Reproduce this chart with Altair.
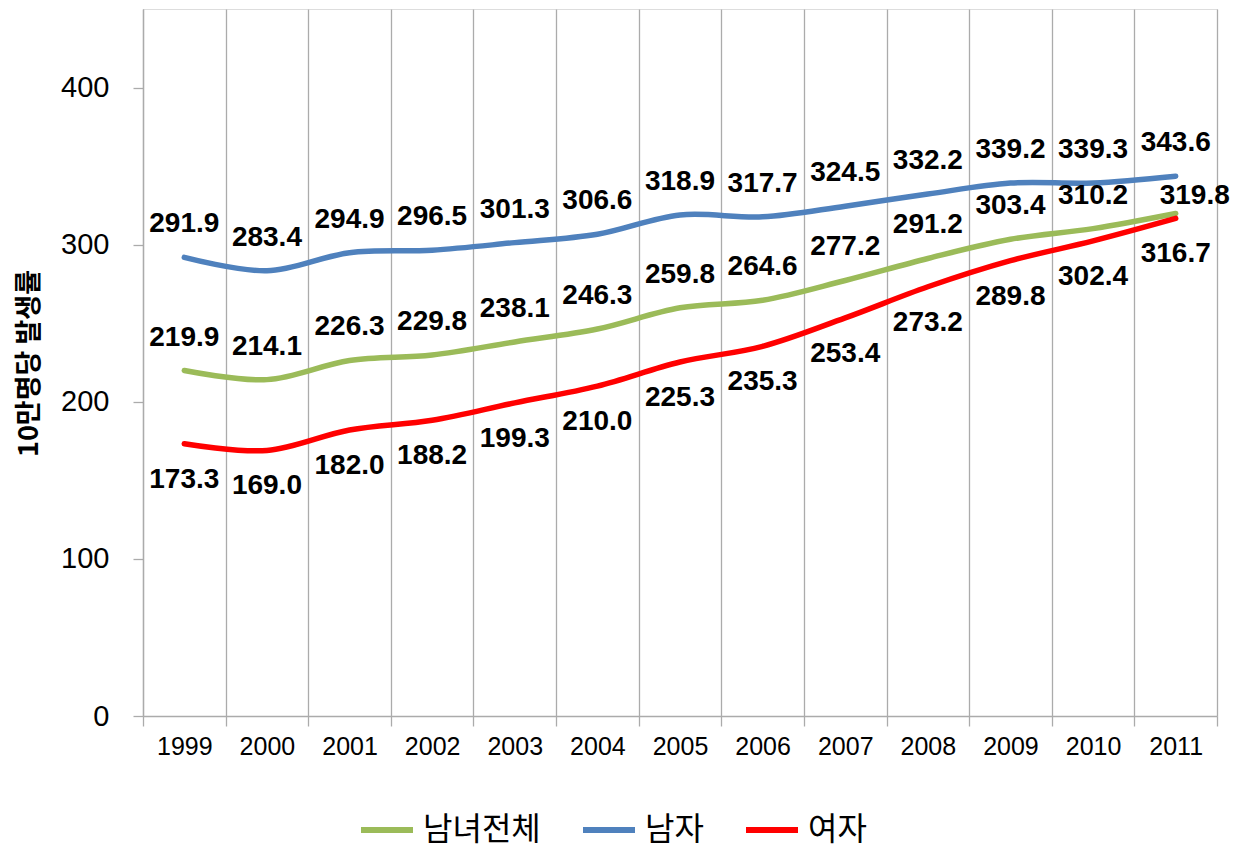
import altair as alt
import pandas as pd

years = ["1999", "2000", "2001", "2002", "2003", "2004", "2005",
         "2006", "2007", "2008", "2009", "2010", "2011"]
series_names = ["남녀전체", "남자", "여자"]
total = [219.9, 214.1, 226.3, 229.8, 238.1, 246.3, 259.8, 264.6, 277.2, 291.2, 303.4, 310.2, 319.8]
male = [291.9, 283.4, 294.9, 296.5, 301.3, 306.6, 318.9, 317.7, 324.5, 332.2, 339.2, 339.3, 343.6]
female = [173.3, 169.0, 182.0, 188.2, 199.3, 210.0, 225.3, 235.3, 253.4, 273.2, 289.8, 302.4, 316.7]
colors = ["#9BBB59", "#4F81BD", "#FF0000"]
y_title = "10만명당 발생률"

rows = []
for name, vals in zip(series_names, [total, male, female]):
    for i, (yr, v) in enumerate(zip(years, vals)):
        rows.append({"year": yr, "series": name, "value": v, "idx": i})
df = pd.DataFrame(rows)

last_idx = len(years) - 1
GRID = "#ABABAB"
NUM_FONT = "Liberation Sans"
KR_FONT = "Noto Sans CJK KR"

x_enc = alt.X(
    "year:O",
    sort=years,
    scale=alt.Scale(type="band", paddingInner=0, paddingOuter=0),
    axis=alt.Axis(
        title=None, grid=True, gridColor=GRID, gridWidth=1.3,
        tickBand="extent", tickSize=10, tickColor=GRID, tickWidth=1.3,
        domainColor=GRID, domainWidth=1.3,
        labelFont=NUM_FONT, labelFontSize=25, labelColor="black",
        labelPadding=8, labelAngle=0,
    ),
)
y_enc = alt.Y(
    "value:Q",
    scale=alt.Scale(domain=[0, 450], nice=False),
    axis=alt.Axis(
        values=[0, 100, 200, 300, 400], grid=False,
        tickSize=10, tickColor=GRID, tickWidth=1.3,
        domainColor=GRID, domainWidth=1.3,
        labelFont=NUM_FONT, labelFontSize=29, labelColor="black",
        labelPadding=24,
        title=y_title, titleFont=KR_FONT, titleFontSize=27, titleFontWeight="bold",
        titleColor="black", titleX=-114, titleY=354, titleAngle=270,
        titleAlign="center", titleBaseline="middle",
    ),
)

base = alt.Chart(df)

lines = base.mark_line(strokeWidth=5.5, strokeCap="round", strokeJoin="round",
                       interpolate="catmull-rom").encode(
    x=x_enc,
    y=y_enc,
    color=alt.Color(
        "series:N",
        scale=alt.Scale(domain=series_names, range=colors),
        legend=alt.Legend(
            title=None, orient="none", direction="horizontal",
            legendX=215, legendY=792,
            symbolType="stroke", symbolSize=2704, symbolStrokeWidth=6,
            labelFont=KR_FONT, labelFontSize=32, labelColor="black",
            labelOffset=7, columnPadding=30, labelLimit=400,
        ),
    ),
    order="idx:Q",
)

text_style = dict(font=NUM_FONT, fontSize=28, fontWeight="bold", color="black",
                  align="center", baseline="middle")

above = base.transform_filter(
    f"(datum.series == '{series_names[1]}') || (datum.series == '{series_names[0]}' && datum.idx < {last_idx})"
).mark_text(dy=-33, **text_style).encode(
    x=alt.X("year:O", sort=years), y="value:Q", text=alt.Text("value:Q", format=".1f"))

below = base.transform_filter(
    f"datum.series == '{series_names[2]}'"
).mark_text(dy=36, **text_style).encode(
    x=alt.X("year:O", sort=years), y="value:Q", text=alt.Text("value:Q", format=".1f"))

last_green = base.transform_filter(
    f"datum.series == '{series_names[0]}' && datum.idx == {last_idx}"
).mark_text(dx=19, dy=-18, **text_style).encode(
    x=alt.X("year:O", sort=years), y="value:Q", text=alt.Text("value:Q", format=".1f"))

chart = alt.layer(lines, above, below, last_green).properties(
    width=1074, height=707,
    padding={"left": 135, "top": 1, "right": 14, "bottom": 133},
    autosize=alt.AutoSizeParams(type="none"),
).configure_view(stroke=GRID, strokeWidth=1.3).configure(background="white")

chart.save("out.html", embed_options={"renderer": "svg", "actions": False})
